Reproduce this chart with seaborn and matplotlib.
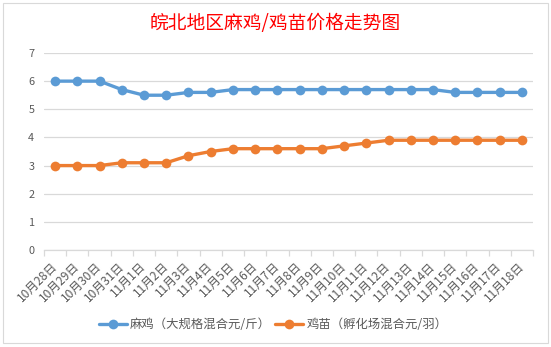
import matplotlib
matplotlib.use("Agg")
import matplotlib.pyplot as plt
import seaborn as sns
import pandas as pd
from matplotlib.patches import Rectangle
from matplotlib.lines import Line2D

dates = ["10月28日", "10月29日", "10月30日", "10月31日", "11月1日", "11月2日", "11月3日",
         "11月4日", "11月5日", "11月6日", "11月7日", "11月8日", "11月9日", "11月10日",
         "11月11日", "11月12日", "11月13日", "11月14日", "11月15日", "11月16日",
         "11月17日", "11月18日"]
maji = [6.0, 6.0, 6.0, 5.7, 5.5, 5.5, 5.6, 5.6, 5.7, 5.7, 5.7, 5.7, 5.7, 5.7,
        5.7, 5.7, 5.7, 5.7, 5.6, 5.6, 5.6, 5.6]
jimiao = [3.0, 3.0, 3.0, 3.1, 3.1, 3.1, 3.35, 3.5, 3.6, 3.6, 3.6, 3.6, 3.6, 3.7,
          3.8, 3.9, 3.9, 3.9, 3.9, 3.9, 3.9, 3.9]
series_names = ["麻鸡（大规格混合元/斤）", "鸡苗（孵化场混合元/羽）"]
colors = ["#5B9BD5", "#ED7D31"]
title = "皖北地区麻鸡/鸡苗价格走势图"

sns.set_theme(style="white")
plt.rcParams['font.family'] = ['Noto Sans CJK SC', 'DejaVu Sans']

df = pd.DataFrame({
    "date": dates * 2,
    "idx": list(range(len(dates))) * 2,
    "price": maji + jimiao,
    "series": [series_names[0]] * len(dates) + [series_names[1]] * len(dates),
})

W, H = 551, 347
fig = plt.figure(figsize=(W / 100, H / 100), dpi=100)
fig.patch.set_facecolor("white")

# chart-area border
fig.add_artist(Rectangle((3 / W, 4 / H), 545 / W, 340 / H, transform=fig.transFigure,
                         fill=False, edgecolor="#D9D9D9", lw=0.8))

ax = fig.add_axes([44 / W, (H - 250) / H, (533 - 44) / W, (250 - 53) / H])
sns.lineplot(data=df, x="idx", y="price", hue="series", palette=colors,
             marker="o", markersize=7, markeredgewidth=0, linewidth=2.4,
             ax=ax, legend=False)

ax.set_xlim(-0.5, len(dates) - 0.5)
ax.set_ylim(0, 7)
ax.set_yticks(range(0, 8))
ax.yaxis.grid(True, color="#D9D9D9", lw=0.9)
ax.set_axisbelow(True)
for s in ["top", "right", "left"]:
    ax.spines[s].set_visible(False)
ax.spines["bottom"].set_color("#D9D9D9")
ax.spines["bottom"].set_linewidth(0.9)

ax.set_xticks(range(len(dates)))
ax.set_xticklabels(dates, rotation=45, ha="right", va="center", rotation_mode="anchor",
                   fontsize=8.6, color="#595959")
ax.tick_params(axis="x", length=0, pad=10)
ax.set_xticks([i - 0.5 for i in range(len(dates) + 1)], minor=True)
ax.tick_params(axis="x", which="minor", length=4, color="#D9D9D9", width=0.9, bottom=True)
ax.tick_params(axis="y", length=0, labelsize=7.8, labelcolor="#595959", pad=7)
ax.set_xlabel("")
ax.set_ylabel("")

fig.text(0.5, 1 - 23 / H, title, ha="center", va="center", color="#FF0000",
         fontsize=13.5, fontweight="medium")

handles = [Line2D([0], [0], color=c, lw=2.4, marker="o", markersize=7,
                  markeredgewidth=0) for c in colors]
fig.legend(handles, series_names, loc="center", bbox_to_anchor=(273 / W, 1 - 325 / H),
           ncol=2, frameon=False, fontsize=8.9, labelcolor="#595959",
           handlelength=2.3, columnspacing=0.3, handletextpad=0.25)

fig.savefig("out.png", dpi=100, facecolor="white")
